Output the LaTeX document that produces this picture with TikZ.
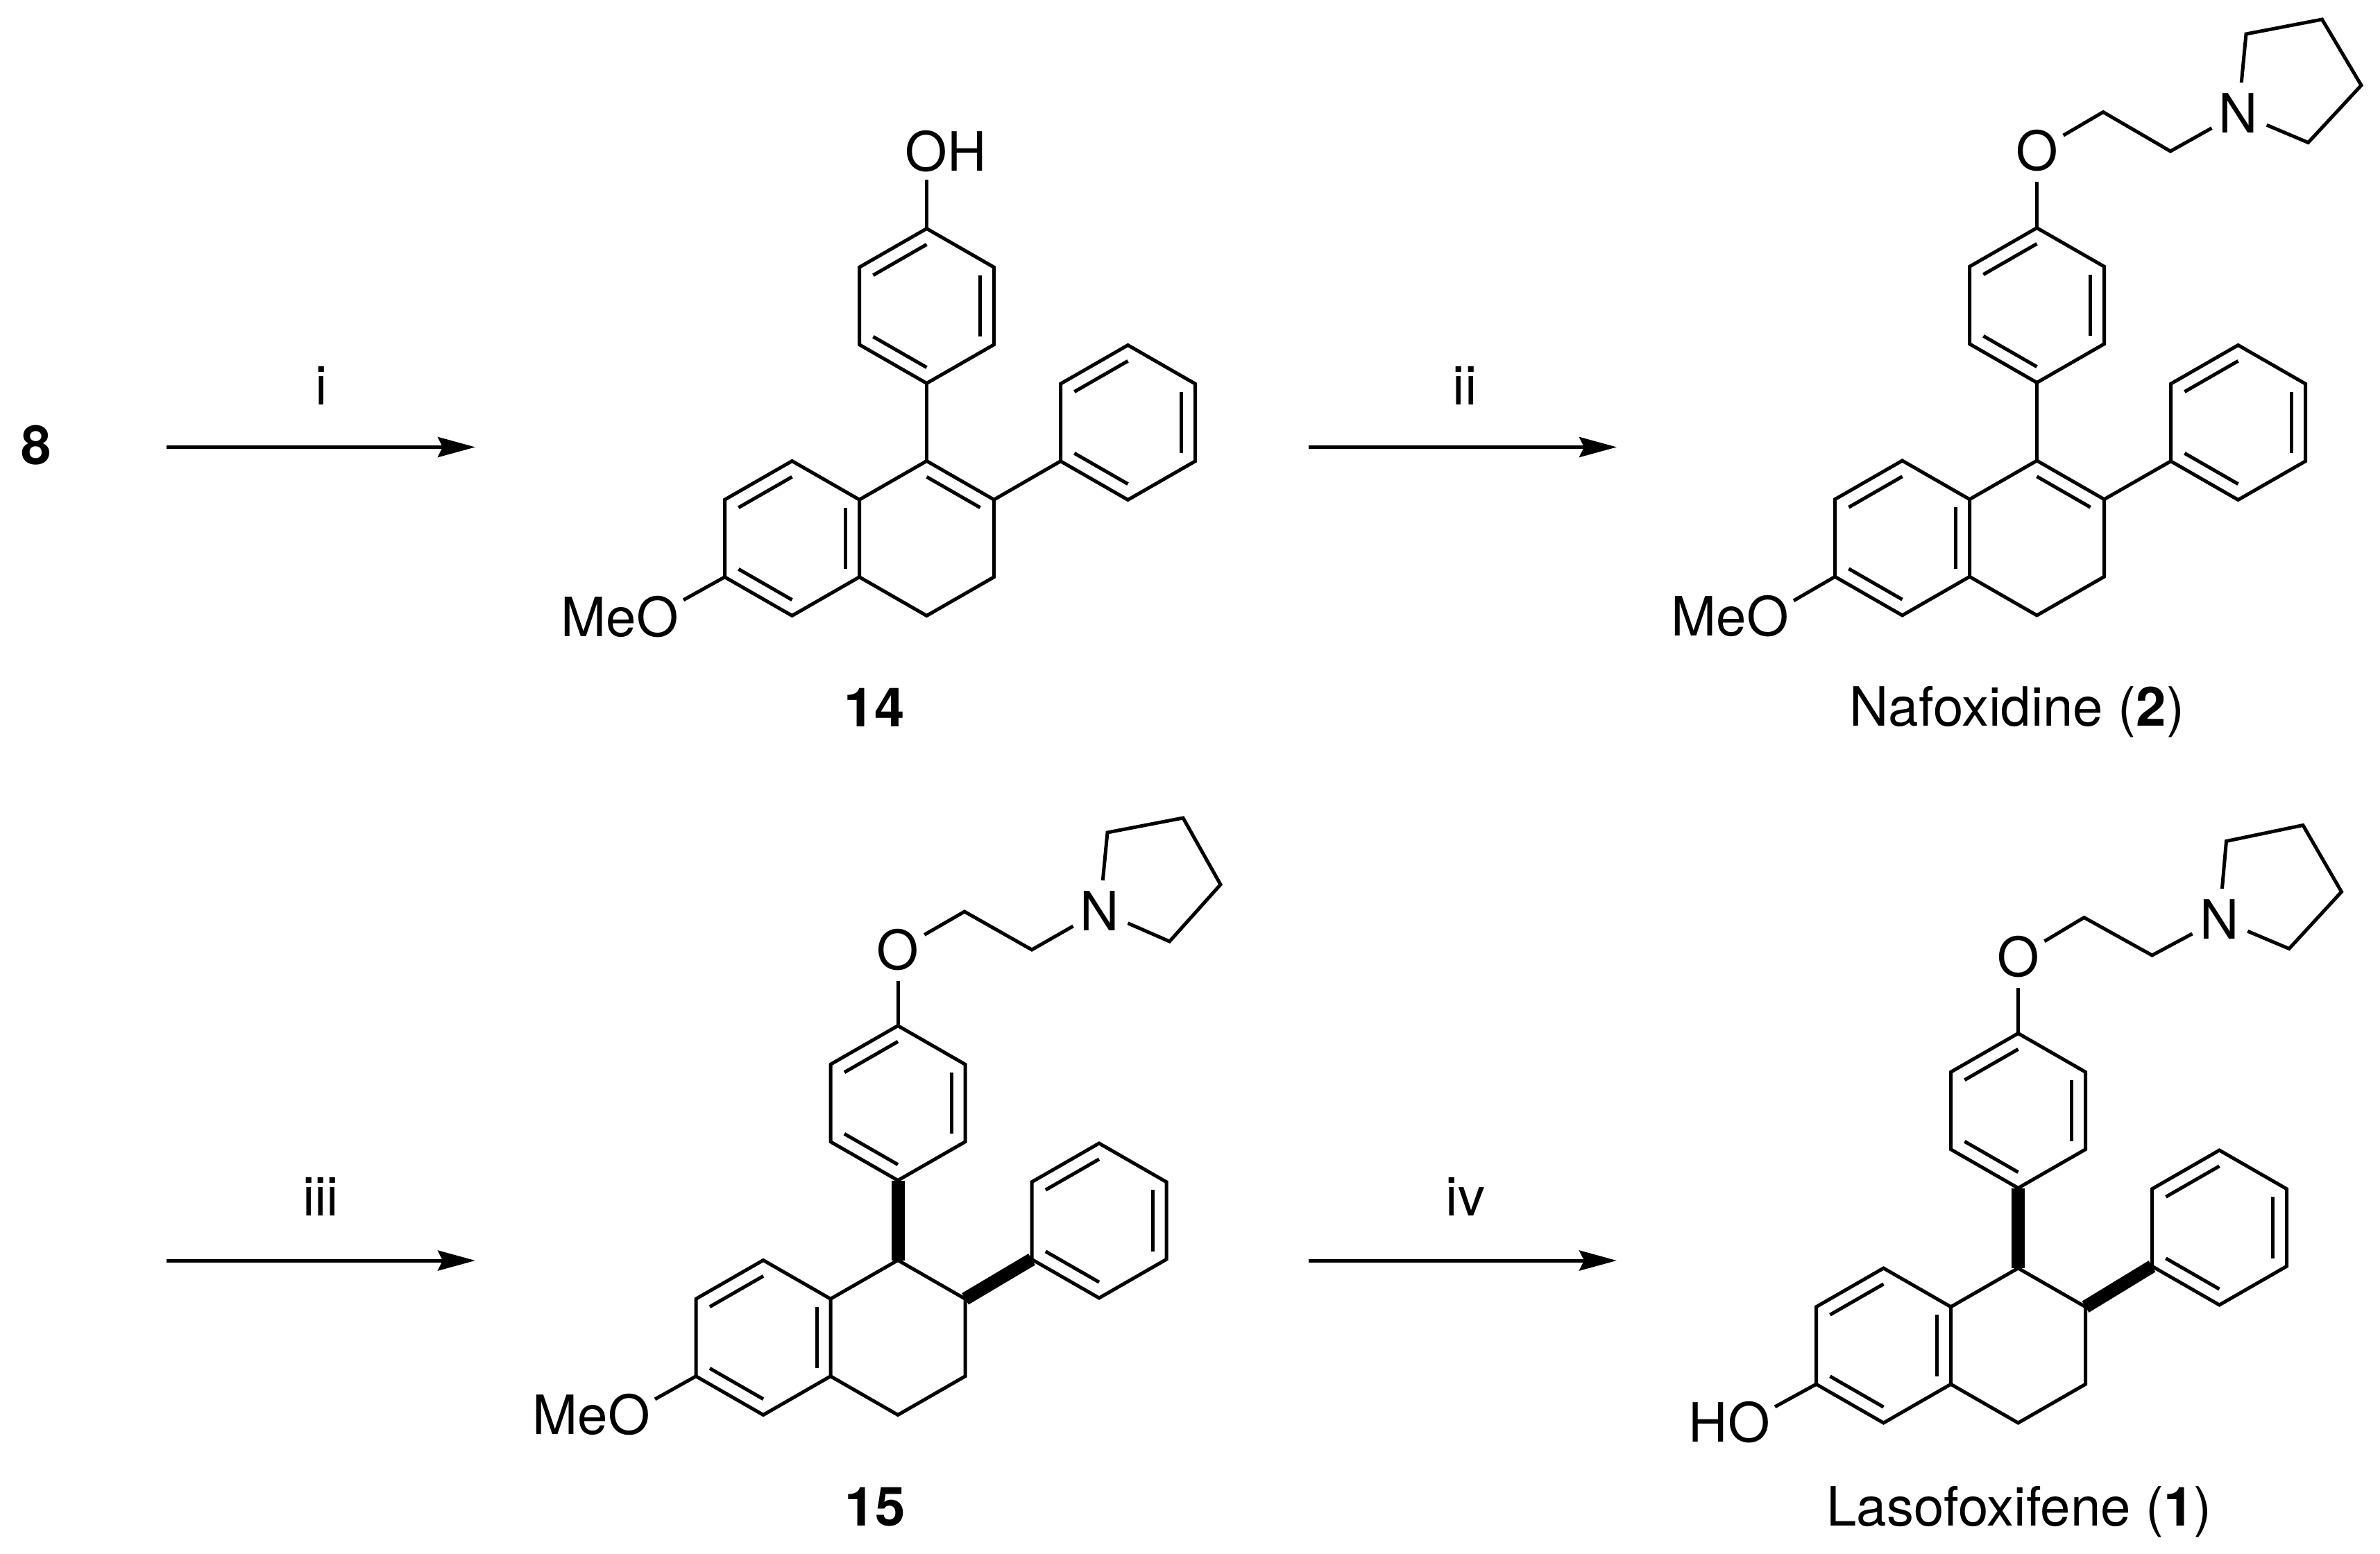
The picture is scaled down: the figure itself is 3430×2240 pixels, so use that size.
\documentclass[tikz,border=0pt]{standalone}
\usepackage{fontspec}
\setmainfont{TeX Gyre Heros}
\usetikzlibrary{calc,arrows.meta}
\tikzset{
  bond/.style={line width=5pt,line join=miter,line cap=butt},
  boldbond/.style={line width=19pt,line cap=butt},
  lbl/.style={font=\fontsize{78}{82}\selectfont,inner sep=0pt},
  atom/.style={lbl,circle,minimum size=88pt},
  grp/.style={lbl,anchor=base east,inner xsep=7pt,text depth=0pt},
  rxn/.style={line width=5pt,-{Stealth[length=54pt,width=29pt,inset=7pt]}}
}
\newcommand{\hexa}[3]{%
  \coordinate (#1C) at (#2,#3);
  \coordinate (#11) at (#2,#3-111.5);
  \coordinate (#12) at (#2+97,#3-55.75);
  \coordinate (#13) at (#2+97,#3+55.75);
  \coordinate (#14) at (#2,#3+111.5);
  \coordinate (#15) at (#2-97,#3+55.75);
  \coordinate (#16) at (#2-97,#3-55.75);
}
\newcommand{\innerb}[3]{\draw[bond] ($(#1C)!0.795!(#1#2)$) -- ($(#1C)!0.795!(#1#3)$);}
\newcommand{\aromring}[1]{%
  \draw[bond] (#11)--(#12)--(#13)--(#14)--(#15)--(#16)--cycle;
  \innerb{#1}{6}{1}\innerb{#1}{2}{3}\innerb{#1}{5}{4}
}
% core: prefix, right-ring centre x, y, top-ring dy, phenyl dy
\newcommand{\core}[5]{%
  \hexa{#1R}{#2}{#3}
  \hexa{#1L}{#2-194}{#3}
  \hexa{#1T}{#2}{#3-#4}
  \hexa{#1P}{#2+290}{#3-#5}
  \aromring{#1L}
  \aromring{#1T}
  \aromring{#1P}
  \draw[bond] (#1R6)--(#1R1)--(#1R2)--(#1R3)--(#1R4)--(#1R5);
}
\begin{document}
\begin{tikzpicture}[x=1pt,y=-1pt]
\path[use as bounding box,fill=white] (0,0) rectangle (3430,2240);

% --- 8 and arrows
\node[lbl,anchor=base,font=\fontsize{78}{82}\selectfont\bfseries] (s8) at (52.5,669) {8};
\coordinate (a1s) at (240,644.5);  \coordinate (a1e) at (685,644.5);
\coordinate (a2s) at (1886,644.5); \coordinate (a2e) at (2330,644.5);
\coordinate (a3s) at (240,1817);   \coordinate (a3e) at (685,1817);
\coordinate (a4s) at (1886,1817);  \coordinate (a4e) at (2330,1817);
\draw[rxn] (a1s) -- (a1e);
\draw[rxn] (a2s) -- (a2e);
\draw[rxn] (a3s) -- (a3e);
\draw[rxn] (a4s) -- (a4e);
\node[lbl,anchor=base] (li)   at (463,583)  {i};
\node[lbl,anchor=base] (lii)  at (2111,583) {ii};
\node[lbl,anchor=base] (liii) at (462,1752) {iii};
\node[lbl,anchor=base] (liv)  at (2112,1752){iv};

% --- 14
\core{a}{1335.5}{776}{335}{167}
\draw[bond] (aT4)--(aR1);
\draw[bond] (aR2)--(aP5);
\innerb{aR}{1}{2}
\node[lbl,anchor=base,text depth=13pt] (aOH) at (1363,246) {OH};
\draw[bond] (aT1) -- (aT1 |- aOH.south);
\node[grp,text height=52pt] (aMeO) at (985,917) {MeO};
\draw[bond] (aL5) -- (aMeO.north east);
\node[lbl,anchor=base,font=\fontsize{78}{82}\selectfont\bfseries] (a14) at (1260,1047) {14};

% --- Nafoxidine
\core{b}{2935.5}{775.5}{335.5}{166.5}
\draw[bond] (bT4)--(bR1);
\draw[bond] (bR2)--(bP5);
\innerb{bR}{1}{2}
\node[atom] (bO) at (2935.5,217.5) {O};
\node[atom] (bN) at (3226,163) {N};
\coordinate (bc1) at (3031,161.5);
\coordinate (bc2) at (3128,218);
\coordinate (br1) at (3237,49);
\coordinate (br2) at (3346.5,28);
\coordinate (br3) at (3403,123);
\coordinate (br4) at (3326.5,205.5);
\draw[bond] (bT1) -- (bO);
\draw[bond] (bO) -- (bc1) -- (bc2) -- (bN);
\draw[bond] (bN) -- (br1) -- (br2) -- (br3) -- (br4) -- (bN);
\node[grp,text height=50pt] (bMeO) at (2585,916) {MeO};
\draw[bond] (bL5) -- (bMeO.north east);
\node[lbl,anchor=base] (bcap) at (2907,1046) {Nafoxidine (\textbf{2})};

% --- 15
\core{c}{1294}{1928}{338}{168.5}
\draw[boldbond] (cT4)--(cR1);
\draw[boldbond] (cR2)--(cP5);
\node[atom] (cO) at (1294,1369.5) {O};
\node[atom] (cN) at (1585,1313) {N};
\coordinate (cc1) at (1390,1314);
\coordinate (cc2) at (1487,1369);
\coordinate (cr1) at (1596,1200);
\coordinate (cr2) at (1705,1179);
\coordinate (cr3) at (1759,1275);
\coordinate (cr4) at (1685.5,1357);
\draw[bond] (cT1) -- (cO);
\draw[bond] (cO) -- (cc1) -- (cc2) -- (cN);
\draw[bond] (cN) -- (cr1) -- (cr2) -- (cr3) -- (cr4) -- (cN);
\node[grp,text height=50.5pt] (cMeO) at (944,2067.5) {MeO};
\draw[bond] (cL5) -- (cMeO.north east);
\node[lbl,anchor=base,font=\fontsize{78}{82}\selectfont\bfseries] (c15) at (1261,2199.5) {15};

% --- Lasofoxifene
\core{d}{2908.5}{1939.5}{338.5}{170}
\draw[boldbond] (dT4)--(dR1);
\draw[boldbond] (dR2)--(dP5);
\node[atom] (dO) at (2908.5,1379.5) {O};
\node[atom] (dN) at (3198.5,1325) {N};
\coordinate (dc1) at (3003.5,1322.5);
\coordinate (dc2) at (3101.5,1377);
\coordinate (dr1) at (3208.5,1212.5);
\coordinate (dr2) at (3319,1189.5);
\coordinate (dr3) at (3374.5,1285.5);
\coordinate (dr4) at (3299,1367.5);
\draw[bond] (dT1) -- (dO);
\draw[bond] (dO) -- (dc1) -- (dc2) -- (dN);
\draw[bond] (dN) -- (dr1) -- (dr2) -- (dr3) -- (dr4) -- (dN);
\node[grp,text height=50pt] (dHO) at (2558,2078) {HO};
\draw[bond] (dL5) -- (dHO.north east);
\node[lbl,anchor=base] (dcap) at (2910,2199.5) {Lasofoxifene (\textbf{1})};
\end{tikzpicture}
\end{document}
